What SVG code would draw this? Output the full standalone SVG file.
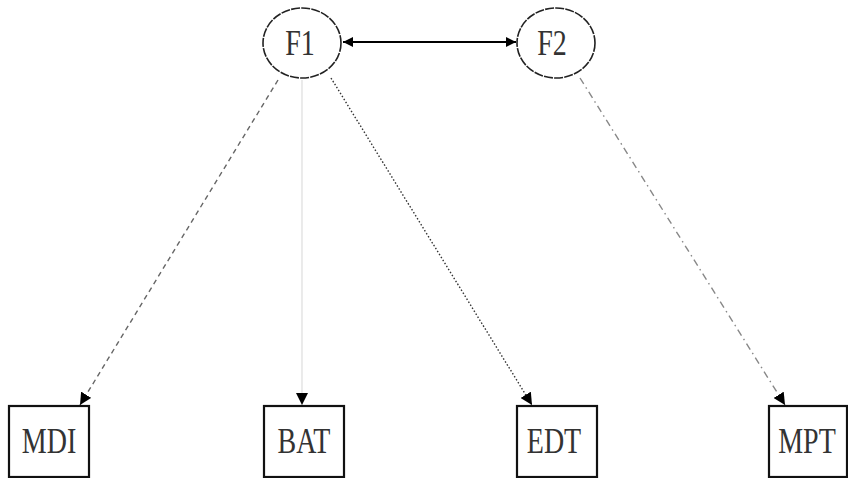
<svg xmlns="http://www.w3.org/2000/svg" width="848" height="478" viewBox="0 0 848 478">
  <defs>
    <marker id="arr" viewBox="0 0 10 10" refX="10" refY="5" markerWidth="10" markerHeight="10" markerUnits="userSpaceOnUse" orient="auto-start-reverse">
      <path d="M0,0 L10,5 L0,10 Z" fill="#000"/>
    </marker>
    <marker id="arrS" viewBox="0 0 10 10" refX="10" refY="5" markerWidth="12" markerHeight="12" markerUnits="userSpaceOnUse" orient="auto-start-reverse">
      <path d="M0,0 L10,5 L0,10 Z" fill="#000"/>
    </marker>
  </defs>
  <style>
    .lat { fill: #fff; stroke: #222; stroke-width: 1.6; stroke-dasharray: 9 1.2; }
    .obs { fill: #fff; stroke: #111; stroke-width: 2.2; }
    .lbl { font-family: "Liberation Serif", "Times New Roman", serif; font-size: 28px; fill: #333; text-anchor: middle; }
    .cov { stroke: #000; stroke-width: 2; fill: none; }
    .ld  { fill: none; }
  </style>
  <rect width="848" height="478" fill="#fff"/>

  <g id="connectors">
    <line class="cov" x1="343" y1="42" x2="516" y2="42" marker-start="url(#arr)" marker-end="url(#arr)"/>
    <line class="ld" x1="278" y1="80" x2="80" y2="405" stroke="#666" stroke-width="1.4" stroke-dasharray="5 4" marker-end="url(#arrS)"/>
    <line class="ld" x1="302" y1="80" x2="302" y2="405" stroke="#ddd" stroke-width="1.2" marker-end="url(#arrS)"/>
    <line class="ld" x1="331" y1="78" x2="532" y2="405" stroke="#333" stroke-width="1.4" stroke-dasharray="1.5 2" marker-end="url(#arrS)"/>
    <line class="ld" x1="580" y1="78" x2="785" y2="405" stroke="#888" stroke-width="1.4" stroke-dasharray="7 4 1.5 4" marker-end="url(#arrS)"/>
  </g>

  <g id="F1">
    <ellipse class="lat" cx="302" cy="43" rx="39" ry="35"/>
    <text class="lbl" transform="translate(300,55) scale(1,1.25)">F1</text>
  </g>
  <g id="F2">
    <ellipse class="lat" cx="556" cy="43" rx="39" ry="35"/>
    <text class="lbl" transform="translate(552,55) scale(1,1.25)">F2</text>
  </g>

  <g id="MDI">
    <rect class="obs" x="9" y="406" width="80" height="71"/>
    <text class="lbl" transform="translate(49,453) scale(1,1.3)">MDI</text>
  </g>
  <g id="BAT">
    <rect class="obs" x="264" y="406" width="80" height="71"/>
    <text class="lbl" transform="translate(304,453) scale(1,1.3)">BAT</text>
  </g>
  <g id="EDT">
    <rect class="obs" x="517" y="406" width="80" height="71"/>
    <text class="lbl" transform="translate(554,453) scale(1,1.3)">EDT</text>
  </g>
  <g id="MPT">
    <rect class="obs" x="769" y="406" width="78" height="71"/>
    <text class="lbl" transform="translate(807,453) scale(1,1.3)">MPT</text>
  </g>
</svg>
